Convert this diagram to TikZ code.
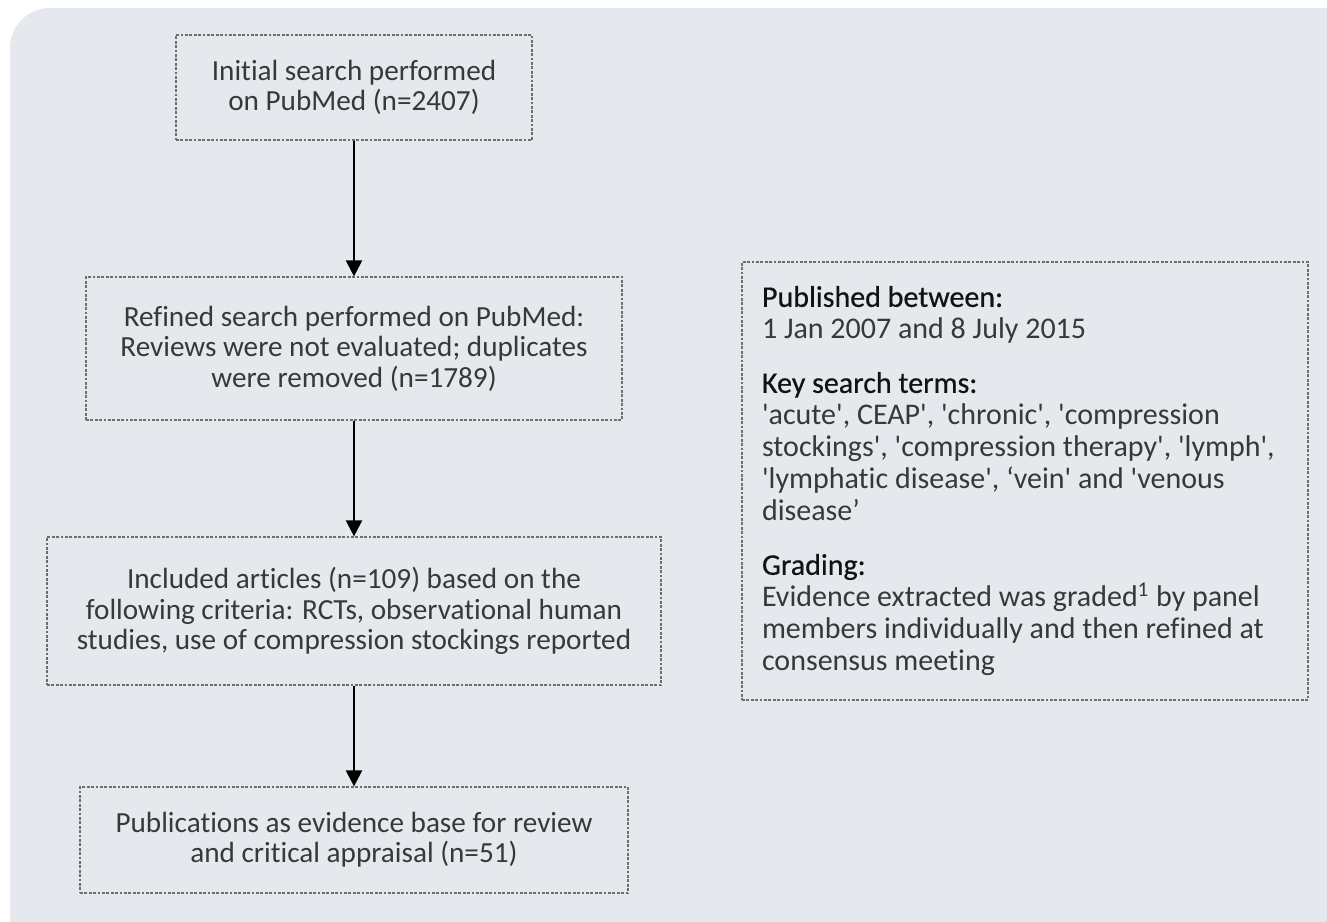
\documentclass[tikz,border=0pt]{standalone}
\usepackage{fontspec}
\setmainfont{Carlito}[Ligatures={TeX,NoCommon}]
\usepackage{xcolor}
\usepackage{tikz}
\usetikzlibrary{positioning, arrows.meta}

\definecolor{panelbg}{HTML}{E5E8ED}
\definecolor{dashgray}{HTML}{6D6E71}
\definecolor{inktext}{HTML}{38383A}
\definecolor{headtext}{HTML}{121214}
\newcommand{\sq}{\textquotesingle}
\newcommand{\headline}[1]{{\addfontfeature{FakeBold=0.5}\color{headtext}#1}}

\begin{document}
\begin{tikzpicture}[x=0.5pt, y=-0.5pt,
          every node/.style={font=\fontsize{14.6}{15.2}\selectfont, text=inktext},
          flowbox/.style={draw=dashgray, line width=0.6pt, dash pattern=on 1.4pt off 0.8pt, align=center, inner sep=0pt},
          flowarrow/.style={line width=1.1pt, -{Triangle[width=8pt,length=8pt]}}]
          \useasboundingbox (0,0) rectangle (1327,921);
          \clip (0,0) rectangle (1327,921);
          \fill[panelbg, rounded corners=20pt] (10,8) rectangle (1380,980);

          \node[flowbox, minimum width=178pt, minimum height=52.5pt] (search) at (354,87.5) {Initial search performed\\on PubMed (n=2407)};
          \node[flowbox, minimum width=268pt, minimum height=71.5pt] (refined) at (354,348.5) {Refined search performed on PubMed:\\Reviews were not evaluated; duplicates\\were removed (n=1789)};
          \node[flowbox, minimum width=307pt, minimum height=74pt] (included) at (354,611) {Included articles (n=109) based on the\\following criteria: RCTs, observational human\\studies, use of compression stockings reported};
          \node[flowbox, minimum width=274pt, minimum height=53pt] (pubs) at (354,840) {Publications as evidence base for review\\and critical appraisal (n=51)};

          % criteria box on the right
          \node[flowbox, align=left, text width=263pt, inner xsep=10pt, minimum height=219pt,
                font=\fontsize{15}{16}\selectfont] (info) at (1025,481) {\spaceskip=0pt\xspaceskip=0pt
            \headline{Published between:}\\
            1 Jan 2007 and 8 July 2015\\[11pt]
            \headline{Key search terms:}\\
            \sq acute\sq, CEAP\sq, \sq chronic\sq, \sq compression\\
            stockings\sq, \sq compression therapy\sq, \sq lymph\sq,\\
            \sq lymphatic disease\sq, ‘vein\sq{} and \sq venous\\
            disease’\\[11pt]
            \headline{Grading:}\\
            Evidence extracted was graded\textsuperscript{1} by panel\\
            members individually and then refined at\\
            consensus meeting};

          \draw[flowarrow] (search) -- (refined);
          \draw[flowarrow] (refined) -- (included);
          \draw[flowarrow] (included) -- (pubs);
        \end{tikzpicture}
\end{document}
